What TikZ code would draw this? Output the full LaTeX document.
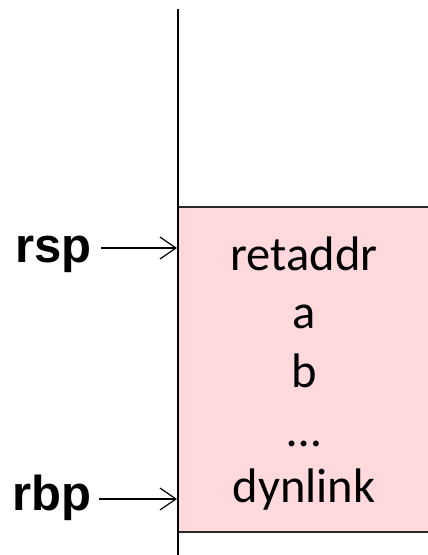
\documentclass[tikz,border=0pt]{standalone}
\usepackage{fontspec}
\setmainfont{Carlito}
\newfontfamily\arialbold{Liberation Sans}
\usetikzlibrary{arrows.meta}
\definecolor{framepink}{RGB}{255,217,220}
\definecolor{edgegray}{RGB}{40,40,40}
\begin{document}
\begin{tikzpicture}[x=1pt,y=-1pt,
  celltext/.style={font=\fontsize{48.5}{52}\selectfont, inner sep=0pt, anchor=base},
  reglabel/.style={font=\arialbold\bfseries\fontsize{49}{52}\selectfont, inner sep=0pt, anchor=base east},
  ptr/.style={line width=1.2pt, -{Straight Barb[length=16pt,width=22pt,line width=1.2pt]}}]
\useasboundingbox (0,0) rectangle (428,555);
\fill[framepink] (178,207) rectangle (432,532);
\draw[edgegray, line width=1.6pt] (178,207) -- (432,207);
\draw[edgegray, line width=1.6pt] (178,532) -- (432,532);
\draw[line width=2pt] (178,9) coordinate (top) -- (178,556) coordinate (bot);
\coordinate (rsppt) at (177,248);
\coordinate (rbppt) at (177,499);
\node[celltext] (retaddr) at (304,270) {retaddr};
\node[celltext] (a) at (304,328) {a};
\node[celltext] (b) at (304,387) {b};
\node[celltext] (dots) at (304,446) {…};
\node[celltext] (dynlink) at (304,502) {dynlink};
\node[reglabel] (rsp) at (92,262) {rsp};
\node[reglabel] (rbp) at (92,510) {rbp};
\draw[ptr] (rsp.east |- rsppt) ++(9,0) -- (rsppt);
\draw[ptr] (rbp.east |- rbppt) ++(7,0) -- (rbppt);
\end{tikzpicture}
\end{document}
